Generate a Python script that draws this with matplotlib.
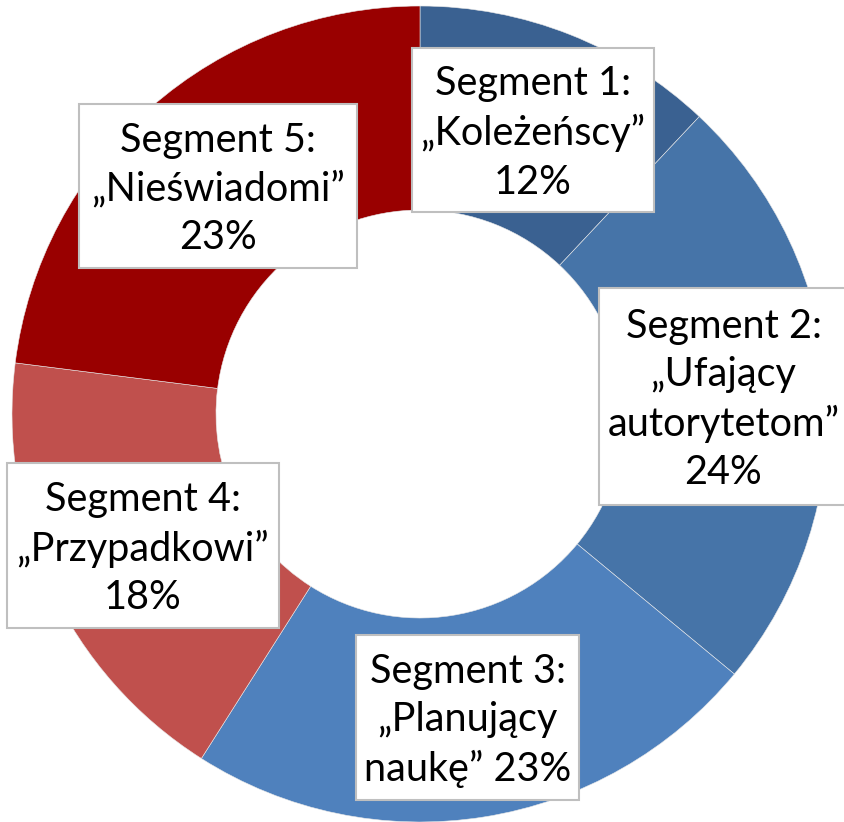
import matplotlib
matplotlib.use("Agg")
import matplotlib.pyplot as plt
from matplotlib.patches import Rectangle

# segment shares, clockwise from 12 o'clock
segments = ["Segment 1", "Segment 2", "Segment 3", "Segment 4", "Segment 5"]
names = ["„Koleżeńscy”", "„Ufający\nautorytetom”", "„Planujący\nnaukę”", "„Przypadkowi”", "„Nieświadomi”"]
shares = [12, 24, 23, 18, 23]

colors = ["#3A6191", "#4674A8", "#4F81BD", "#C0504D", "#990000"]

W, H = 844, 822
# label boxes in image pixels: left, top, right, bottom
boxes = [(412, 48, 654, 212), (599, 288, 848, 505), (356, 635, 579, 800),
         (7, 463, 279, 628), (79, 104, 357, 268)]

fig = plt.figure(figsize=(W / 100, H / 100), dpi=100)
ax = fig.add_axes([0, 0, 1, 1])

cx, cy, R = 420, H - 414, 408
ax.pie(shares, colors=colors, startangle=90, counterclock=False,
       center=(cx, cy), radius=R,
       wedgeprops=dict(width=R * 0.5, edgecolor="#e8e8e8", linewidth=0.4))
ax.set_xlim(0, W)
ax.set_ylim(0, H)
ax.set_aspect("equal")
ax.axis("off")

for i, (l, t, r, b) in enumerate(boxes):
    ax.add_patch(Rectangle((l, H - b), r - l, b - t, facecolor="white",
                           edgecolor="#BFBFBF", linewidth=1.5, zorder=3))
    name = names[i]
    if i == 2:
        txt = f"{segments[i]}:\n{name} {shares[i]}%"
    else:
        txt = f"{segments[i]}:\n{name}\n{shares[i]}%"
    ax.text((l + r) / 2, H - (t + b) / 2 - 3, txt, ha="center", va="center",
            multialignment="center", fontsize=28.5, family="Lato",
            linespacing=1.38, color="black", zorder=4)

fig.savefig("out.png", dpi=100)
